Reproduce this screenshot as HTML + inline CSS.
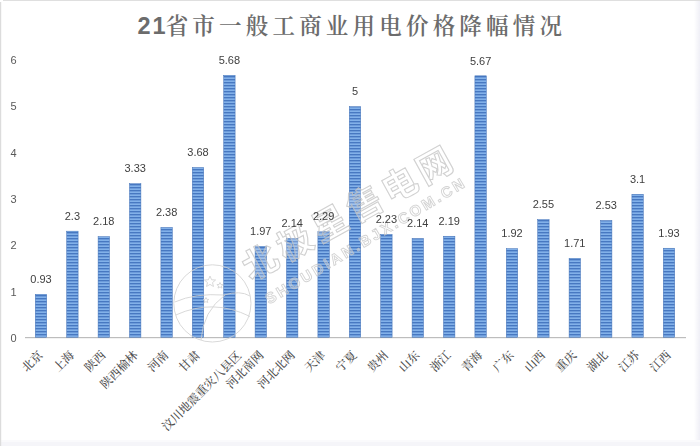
<!DOCTYPE html>
<html lang="zh-CN">
<head>
<meta charset="utf-8">
<title>21省市一般工商业用电价格降幅情况</title>
<style>
html,body{margin:0;padding:0;background:#fff;}
body{width:700px;height:446px;overflow:hidden;position:relative;}
svg{display:block;position:absolute;left:0;top:0;}
.num{font-family:"Liberation Sans","DejaVu Sans",sans-serif;}
.cjk{font-family:"Liberation Serif","Noto Serif CJK SC",serif;}
</style>
</head>
<body>
<svg width="700" height="446" viewBox="0 0 700 446">
<defs>
<pattern id="stripe" x="0" y="1.2" width="4" height="3" patternUnits="userSpaceOnUse">
<rect x="0" y="0" width="4" height="3" fill="#84b3eb"/>
<rect x="0" y="0" width="4" height="1.15" fill="#3869b6"/>
</pattern>
<linearGradient id="rg" x1="0" x2="1" y1="0" y2="0">
<stop offset="0" stop-color="#ffffff"/><stop offset="1" stop-color="#efeff6"/>
</linearGradient>
</defs>
<rect x="0" y="0" width="700" height="446" fill="#ffffff"/>
<rect x="694" y="0" width="6" height="446" fill="url(#rg)"/>
<rect x="0" y="440" width="700" height="2" fill="#fafafc"/><rect x="0" y="442" width="700" height="4" fill="#f5f5f9"/>
<rect x="3" y="0" width="697" height="1" fill="#dfdfdf"/>
<rect x="0" y="2" width="1.2" height="444" fill="#dcdcdc"/>
<rect x="25" y="337.0" width="661" height="1.2" fill="#bdbdbd"/>
<rect x="35.30" y="294.33" width="11.40" height="42.87" fill="url(#stripe)" stroke="#3f6fb5" stroke-width="0.5"/>
<rect x="66.70" y="231.17" width="11.40" height="106.03" fill="url(#stripe)" stroke="#3f6fb5" stroke-width="0.5"/>
<rect x="98.10" y="236.70" width="11.40" height="100.50" fill="url(#stripe)" stroke="#3f6fb5" stroke-width="0.5"/>
<rect x="129.50" y="183.69" width="11.40" height="153.51" fill="url(#stripe)" stroke="#3f6fb5" stroke-width="0.5"/>
<rect x="160.90" y="227.48" width="11.40" height="109.72" fill="url(#stripe)" stroke="#3f6fb5" stroke-width="0.5"/>
<rect x="192.30" y="167.55" width="11.40" height="169.65" fill="url(#stripe)" stroke="#3f6fb5" stroke-width="0.5"/>
<rect x="223.70" y="75.35" width="11.40" height="261.85" fill="url(#stripe)" stroke="#3f6fb5" stroke-width="0.5"/>
<rect x="255.10" y="246.38" width="11.40" height="90.82" fill="url(#stripe)" stroke="#3f6fb5" stroke-width="0.5"/>
<rect x="286.50" y="238.55" width="11.40" height="98.65" fill="url(#stripe)" stroke="#3f6fb5" stroke-width="0.5"/>
<rect x="317.90" y="231.63" width="11.40" height="105.57" fill="url(#stripe)" stroke="#3f6fb5" stroke-width="0.5"/>
<rect x="349.30" y="106.70" width="11.40" height="230.50" fill="url(#stripe)" stroke="#3f6fb5" stroke-width="0.5"/>
<rect x="380.70" y="234.40" width="11.40" height="102.80" fill="url(#stripe)" stroke="#3f6fb5" stroke-width="0.5"/>
<rect x="412.10" y="238.55" width="11.40" height="98.65" fill="url(#stripe)" stroke="#3f6fb5" stroke-width="0.5"/>
<rect x="443.50" y="236.24" width="11.40" height="100.96" fill="url(#stripe)" stroke="#3f6fb5" stroke-width="0.5"/>
<rect x="474.90" y="75.81" width="11.40" height="261.39" fill="url(#stripe)" stroke="#3f6fb5" stroke-width="0.5"/>
<rect x="506.30" y="248.69" width="11.40" height="88.51" fill="url(#stripe)" stroke="#3f6fb5" stroke-width="0.5"/>
<rect x="537.70" y="219.64" width="11.40" height="117.55" fill="url(#stripe)" stroke="#3f6fb5" stroke-width="0.5"/>
<rect x="569.10" y="258.37" width="11.40" height="78.83" fill="url(#stripe)" stroke="#3f6fb5" stroke-width="0.5"/>
<rect x="600.50" y="220.57" width="11.40" height="116.63" fill="url(#stripe)" stroke="#3f6fb5" stroke-width="0.5"/>
<rect x="631.90" y="194.29" width="11.40" height="142.91" fill="url(#stripe)" stroke="#3f6fb5" stroke-width="0.5"/>
<rect x="663.30" y="248.23" width="11.40" height="88.97" fill="url(#stripe)" stroke="#3f6fb5" stroke-width="0.5"/>
<g id="wm" fill="none" stroke="#cfcfcf" stroke-width="1" opacity="0.8">
<circle cx="212.4" cy="303.4" r="38.6"/>
<path d="M174.8 302 Q195 293 224 295 Q240 290 250 296 M175.8 315 Q213 298 250 316.5 M201 340 Q203 311 225 295"/>
<path d="M210 276 l1.6 3.8 4 0.2 -3.1 2.6 1 3.9 -3.5 -2.1 -3.5 2.1 1 -3.9 -3.1 -2.6 4 -0.2z"/>
<path d="M220 282.5 l0.9 2 2.2 0.1 -1.7 1.4 0.6 2.1 -2 -1.2 -2 1.2 0.6 -2.1 -1.7 -1.4 2.2 -0.1z"/>
<path d="M206 297.5 l0.8 1.8 2 0.1 -1.5 1.3 0.5 1.9 -1.8 -1 -1.8 1 0.5 -1.9 -1.5 -1.3 2 -0.1z"/>
<text transform="translate(251,281.5) rotate(-29)" font-family="'Liberation Sans','Noto Sans CJK SC',sans-serif" font-size="35" font-weight="700" letter-spacing="4.8" stroke="#c6c6c6" stroke-width="1.1" fill="#ffffff" fill-opacity="0.3">北极星售电网</text>
<text transform="translate(269.3,304.5) rotate(-31)" class="num" font-size="15" font-weight="700" textLength="229" lengthAdjust="spacing" stroke="#c8c8c8" stroke-width="0.9" fill="#ffffff" fill-opacity="0.35">SHOUDIAN.BJX.COM.CN</text>
</g>
<g class="num" font-size="11" fill="#404040" text-anchor="middle">
<text x="41.00" y="283.03">0.93</text>
<text x="72.40" y="219.87">2.3</text>
<text x="103.80" y="225.40">2.18</text>
<text x="135.20" y="172.39">3.33</text>
<text x="166.60" y="216.18">2.38</text>
<text x="198.00" y="156.25">3.68</text>
<text x="229.40" y="64.05">5.68</text>
<text x="260.80" y="235.08">1.97</text>
<text x="292.20" y="227.25">2.14</text>
<text x="323.60" y="220.33">2.29</text>
<text x="355.00" y="95.40">5</text>
<text x="386.40" y="223.10">2.23</text>
<text x="417.80" y="227.25">2.14</text>
<text x="449.20" y="224.94">2.19</text>
<text x="480.60" y="64.51">5.67</text>
<text x="512.00" y="237.39">1.92</text>
<text x="543.40" y="208.34">2.55</text>
<text x="574.80" y="247.07">1.71</text>
<text x="606.20" y="209.27">2.53</text>
<text x="637.60" y="182.99">3.1</text>
<text x="669.00" y="236.93">1.93</text>
</g>
<g class="num" font-size="11" fill="#595959" text-anchor="middle">
<text x="13.5" y="341.95">0</text>
<text x="13.5" y="295.60">1</text>
<text x="13.5" y="249.25">2</text>
<text x="13.5" y="202.90">3</text>
<text x="13.5" y="156.55">4</text>
<text x="13.5" y="110.20">5</text>
<text x="13.5" y="63.85">6</text>
</g>
<g class="cjk" font-size="11.8" font-weight="500" fill="#4d4d4d" text-anchor="end">
<text transform="translate(43.50,355.90) rotate(-45)" x="0" y="0">北京</text>
<text transform="translate(74.90,355.90) rotate(-45)" x="0" y="0">上海</text>
<text transform="translate(106.30,355.90) rotate(-45)" x="0" y="0">陕西</text>
<text transform="translate(138.70,355.90) rotate(-45)" x="0" y="0">陕西榆林</text>
<text transform="translate(169.10,355.90) rotate(-45)" x="0" y="0">河南</text>
<text transform="translate(200.50,355.90) rotate(-45)" x="0" y="0">甘肃</text>
<text transform="translate(242.20,356.40) rotate(-45)" x="0" y="0">汶川地震重灾八县区</text>
<text transform="translate(264.30,355.90) rotate(-45)" x="0" y="0">河北南网</text>
<text transform="translate(295.70,355.90) rotate(-45)" x="0" y="0">河北北网</text>
<text transform="translate(326.10,355.90) rotate(-45)" x="0" y="0">天津</text>
<text transform="translate(357.50,355.90) rotate(-45)" x="0" y="0">宁夏</text>
<text transform="translate(388.90,355.90) rotate(-45)" x="0" y="0">贵州</text>
<text transform="translate(420.30,355.90) rotate(-45)" x="0" y="0">山东</text>
<text transform="translate(451.70,355.90) rotate(-45)" x="0" y="0">浙江</text>
<text transform="translate(483.10,355.90) rotate(-45)" x="0" y="0">青海</text>
<text transform="translate(514.50,355.90) rotate(-45)" x="0" y="0">广东</text>
<text transform="translate(545.90,355.90) rotate(-45)" x="0" y="0">山西</text>
<text transform="translate(577.30,355.90) rotate(-45)" x="0" y="0">重庆</text>
<text transform="translate(608.70,355.90) rotate(-45)" x="0" y="0">湖北</text>
<text transform="translate(640.10,355.90) rotate(-45)" x="0" y="0">江苏</text>
<text transform="translate(671.50,355.90) rotate(-45)" x="0" y="0">江西</text>
</g>
<text x="137.5" y="33.6" fill="#6c6c6c" font-size="22.5" letter-spacing="4.2"><tspan class="num" font-weight="700" letter-spacing="2" font-size="23.5">21</tspan><tspan class="cjk" dx="-2" font-weight="600">省市一般工商业用电价格降幅情况</tspan></text>
</svg>
</body>
</html>
